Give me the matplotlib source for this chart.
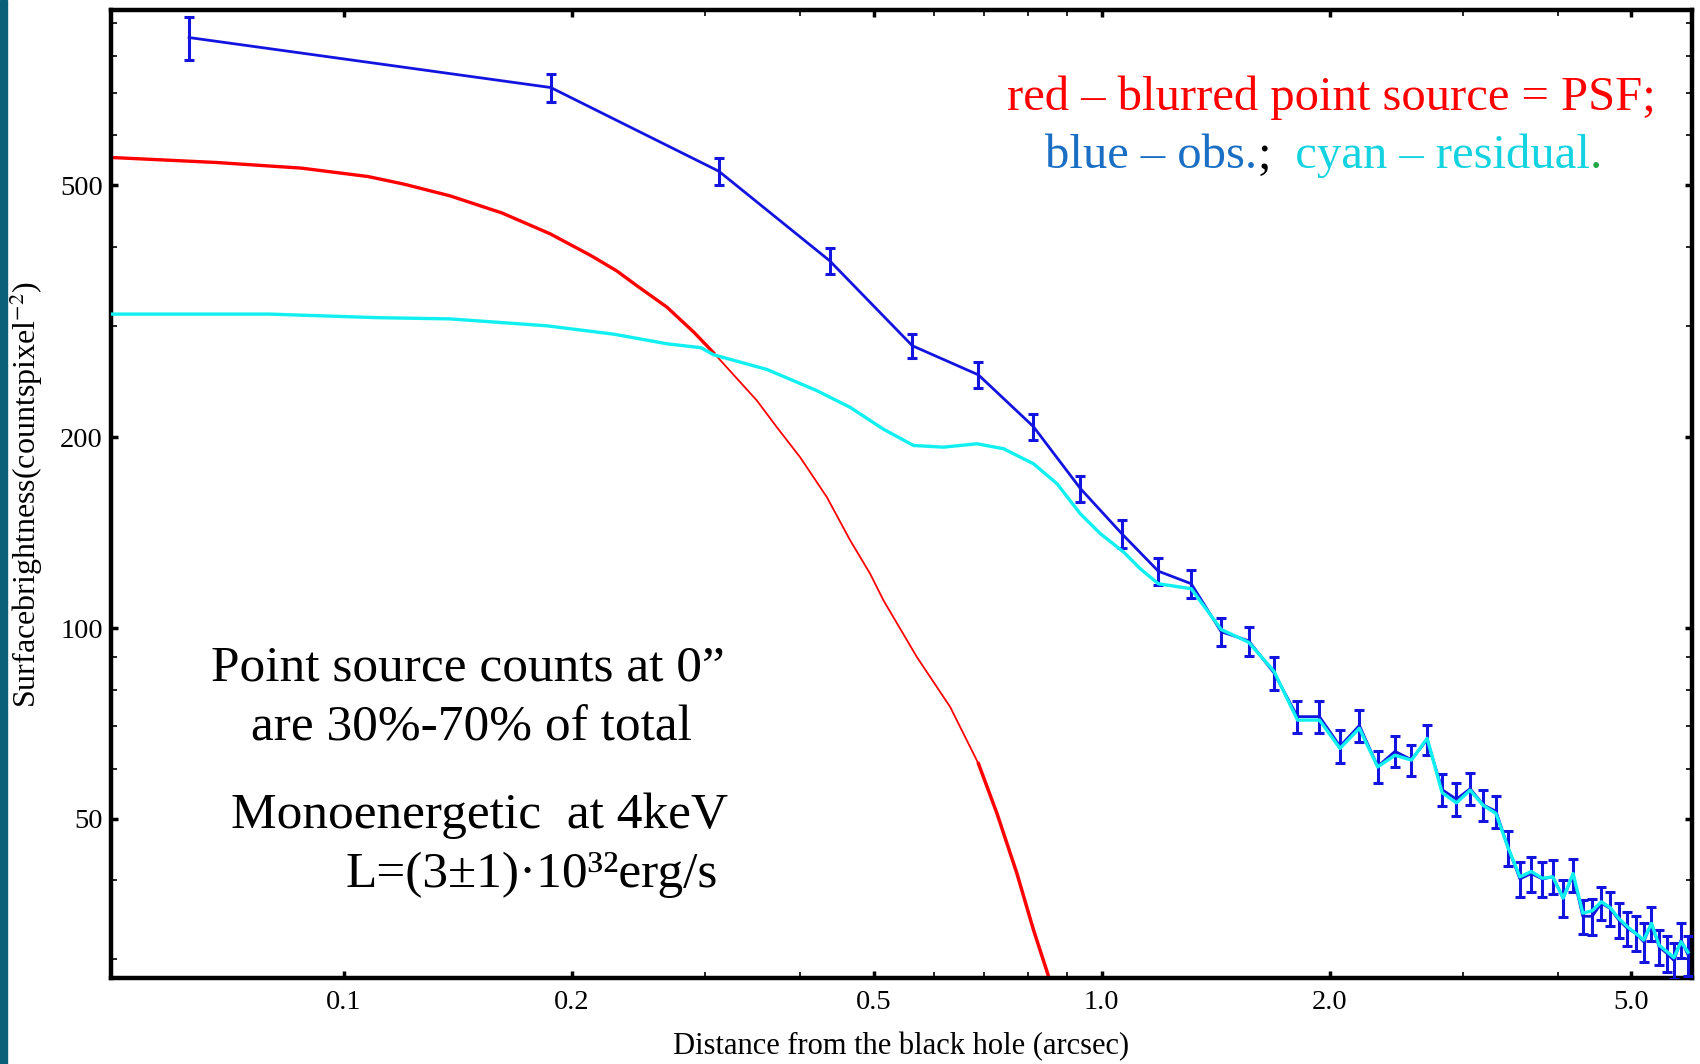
import matplotlib
matplotlib.use("Agg")
import matplotlib.pyplot as plt
from matplotlib.patches import Rectangle
from matplotlib.ticker import FixedLocator, FixedFormatter, NullFormatter

plt.rcParams['font.family'] = ['Liberation Serif', 'DejaVu Serif']
plt.rcParams['mathtext.fontset'] = 'stix'

# observed profile (blue), 0.125" bins
r_obs = [0.0625, 0.1875, 0.3125, 0.4375, 0.5625, 0.6875, 0.8125, 0.9375,
         1.0625, 1.1875, 1.3125, 1.4375, 1.5625, 1.6875, 1.8125, 1.9375,
         2.0625, 2.1875, 2.3125, 2.4375, 2.5625, 2.6875, 2.8125, 2.9375,
         3.0625, 3.1875, 3.3125, 3.4375, 3.5625, 3.6875, 3.8125, 3.9375,
         4.0625, 4.1875, 4.3125, 4.4375, 4.5625, 4.6875, 4.8125, 4.9375,
         5.0625, 5.1875, 5.3125, 5.4375, 5.5625, 5.6875, 5.8125, 5.9375]
sb_obs = [855, 713, 526, 380, 279, 251, 208, 166,
          141, 123, 117.5, 98.7, 95.5, 85.0, 72.5, 72.5,
          65.1, 70.2, 60.5, 63.9, 62.0, 66.7, 55.6, 53.7,
          55.8, 52.6, 51.4, 45.0, 40.2, 41.0, 40.2, 40.5,
          37.5, 40.8, 35.1, 35.1, 36.8, 36.1, 34.6, 33.6,
          33.0, 32.0, 34.2, 31.4, 30.7, 29.9, 32.2, 30.5]
sb_err = [66, 36, 25, 18, 12, 12, 10, 8,
          7, 6, 6, 5, 5, 5, 4.2, 4.2,
          3.9, 4.0, 3.6, 3.6, 3.5, 3.6, 3.2, 3.2,
          3.2, 3.0, 3.0, 2.8, 2.6, 2.6, 2.6, 2.5,
          2.5, 2.4, 2.2, 2.3, 2.2, 2.2, 2.2, 2.1,
          2.1, 2.3, 2.1, 2.0, 2.0, 2.0, 2.0, 2.2]

# blurred point source = PSF (red)
r_psf = [0.0493, 0.0679, 0.0879, 0.1076, 0.12, 0.1381, 0.1617, 0.1872,
         0.212, 0.2293, 0.2428, 0.2669, 0.2897, 0.3075, 0.3508, 0.3727,
         0.4001, 0.4338, 0.4658, 0.4949, 0.5153, 0.5704, 0.631, 0.6877,
         0.7274, 0.7729, 0.8128, 0.8526, 0.87]
sb_psf = [553, 543, 532, 516, 502, 481, 452, 419,
          387, 366, 348, 321, 293, 272, 228.6, 207.5,
          186, 161, 137.5, 121.8, 110.6, 90.0, 75.1, 61.1,
          51.0, 41.0, 33.4, 28.0, 25.5]

# residual (cyan)
r_res = [0.0493, 0.0798, 0.1105, 0.138, 0.1852, 0.227, 0.267, 0.296,
         0.3075, 0.3616, 0.4209, 0.4658, 0.5153, 0.5645, 0.6183, 0.6843,
         0.7422, 0.8128, 0.873, 0.937, 0.9955, 1.069, 1.124, 1.1875,
         1.3125, 1.4375, 1.5625, 1.6875, 1.8125, 1.9375, 2.0625, 2.1875,
         2.3125, 2.4375, 2.5625, 2.6875, 2.8125, 2.9375, 3.0625, 3.1875,
         3.3125, 3.4375, 3.5625, 3.6875, 3.8125, 3.9375, 4.0625, 4.1875,
         4.3125, 4.4375, 4.5625, 4.6875, 4.8125, 4.9375, 5.0625, 5.1875,
         5.3125, 5.4375, 5.5625, 5.6875, 5.8125, 5.9375]
sb_res = [313, 313, 309, 307.6, 300, 291, 281, 277,
          270, 256, 237, 223, 206, 194.2, 193, 195.4,
          191.9, 181.7, 169, 151.5, 141, 131.8, 124.1, 117.5,
          115.4, 99.5, 95.0, 85.5, 71.6, 71.6, 64.6, 69.5,
          60.4, 63.0, 61.9, 67.0, 55.0, 53.0, 55.5, 52.5,
          51.0, 45.0, 40.5, 41.3, 40.3, 40.5, 37.5, 41.0,
          35.5, 35.8, 37.0, 36.2, 34.8, 33.8, 33.0, 32.2,
          34.2, 31.6, 30.9, 30.2, 32.0, 30.8]

x_major = [0.1, 0.2, 0.5, 1.0, 2.0, 5.0]
x_labels = ['0.1', '0.2', '0.5', '1.0', '2.0', '5.0']
x_minor = [0.3, 0.4, 0.6, 0.7, 0.8, 0.9, 3, 4]
y_major = [50, 100, 200, 500]
y_labels = ['50', '100', '200', '500']
y_minor = [30, 40, 60, 70, 80, 90, 300, 400, 600, 700, 800, 900]

BLUE = '#1414e0'
RED = '#ff0000'
CYAN = '#10f0f0'

fig = plt.figure(figsize=(17, 10.64), dpi=100)
fig.patches.append(Rectangle((0, 0), 7 / 1700, 1, transform=fig.transFigure,
                             color='#0b6079', zorder=0))
ax = fig.add_axes([0.0653, 0.0804, 0.9297, 0.9102])
ax.set_xscale('log')
ax.set_yscale('log')

ax.errorbar(r_obs, sb_obs, yerr=sb_err, color=BLUE, lw=2.0, elinewidth=2.2,
            capsize=3.5, capthick=2.2, zorder=3)
# the PSF curve is drawn thick / thin / thick as in the original
ax.plot(r_psf[:14], sb_psf[:14], color=RED, lw=2.4, zorder=2)
ax.plot(r_psf[13:24], sb_psf[13:24], color=RED, lw=1.3, zorder=2)
ax.plot(r_psf[23:], sb_psf[23:], color=RED, lw=2.5, zorder=2)
ax.plot(r_res, sb_res, color=CYAN, lw=2.4, zorder=4)

ax.set_xlim(0.0493, 6.0)
ax.set_ylim(28, 945)

ax.xaxis.set_major_locator(FixedLocator(x_major))
ax.xaxis.set_major_formatter(FixedFormatter(x_labels))
ax.xaxis.set_minor_locator(FixedLocator(x_minor))
ax.xaxis.set_minor_formatter(NullFormatter())
ax.yaxis.set_major_locator(FixedLocator(y_major))
ax.yaxis.set_major_formatter(FixedFormatter(y_labels))
ax.yaxis.set_minor_locator(FixedLocator(y_minor))
ax.yaxis.set_minor_formatter(NullFormatter())

ax.tick_params(which='both', direction='in', top=True, right=True)
ax.tick_params(which='major', length=5, width=2.5, labelsize=20.5)
ax.tick_params(axis='x', which='major', pad=8)
ax.tick_params(axis='y', which='major', pad=6)
ax.tick_params(which='minor', length=4, width=1.2)
for s in ax.spines.values():
    s.set_linewidth(3.2)

ax.set_xlabel('Distance from the black hole (arcsec)', fontsize=22)
ax.xaxis.set_label_coords(0.5, -0.055)
ax.set_ylabel(r'Surfacebrightness(countspixel$^{-2}$)', fontsize=23)
ax.yaxis.set_label_coords(-0.042, 0.5)

# notes on the left
fig.text(0.2753, 0.360, 'Point source counts at 0\u201d', fontsize=37,
         ha='center', va='baseline')
fig.text(0.2774, 0.3045, 'are 30%-70% of total', fontsize=37,
         ha='center', va='baseline')
fig.text(0.4286, 0.2222, 'Monoenergetic  at 4keV', fontsize=37,
         ha='right', va='baseline')
fig.text(0.4222, 0.1668, 'L=(3\u00b11)\u00b710\u00b3\u00b2erg/s', fontsize=37,
         ha='right', va='baseline')

# colour key at top right
fig.text(0.7832, 0.8966, 'red \u2013 blurred point source = PSF;', fontsize=35,
         color=RED, ha='center', va='baseline')
t = fig.text(0.6147, 0.8328, 'blue \u2013 obs.', fontsize=35, color='#1a6fc4',
             ha='left', va='bottom')
pieces = [(';', 'black'), ('  cyan \u2013 residual', '#14d3e0'), ('.', '#22a845')]
for txt, col in pieces:
    t = ax.annotate(txt, xy=(1, 0), xycoords=t, fontsize=35, color=col,
                    ha='left', va='bottom')

fig.savefig('out.png', dpi=100)
